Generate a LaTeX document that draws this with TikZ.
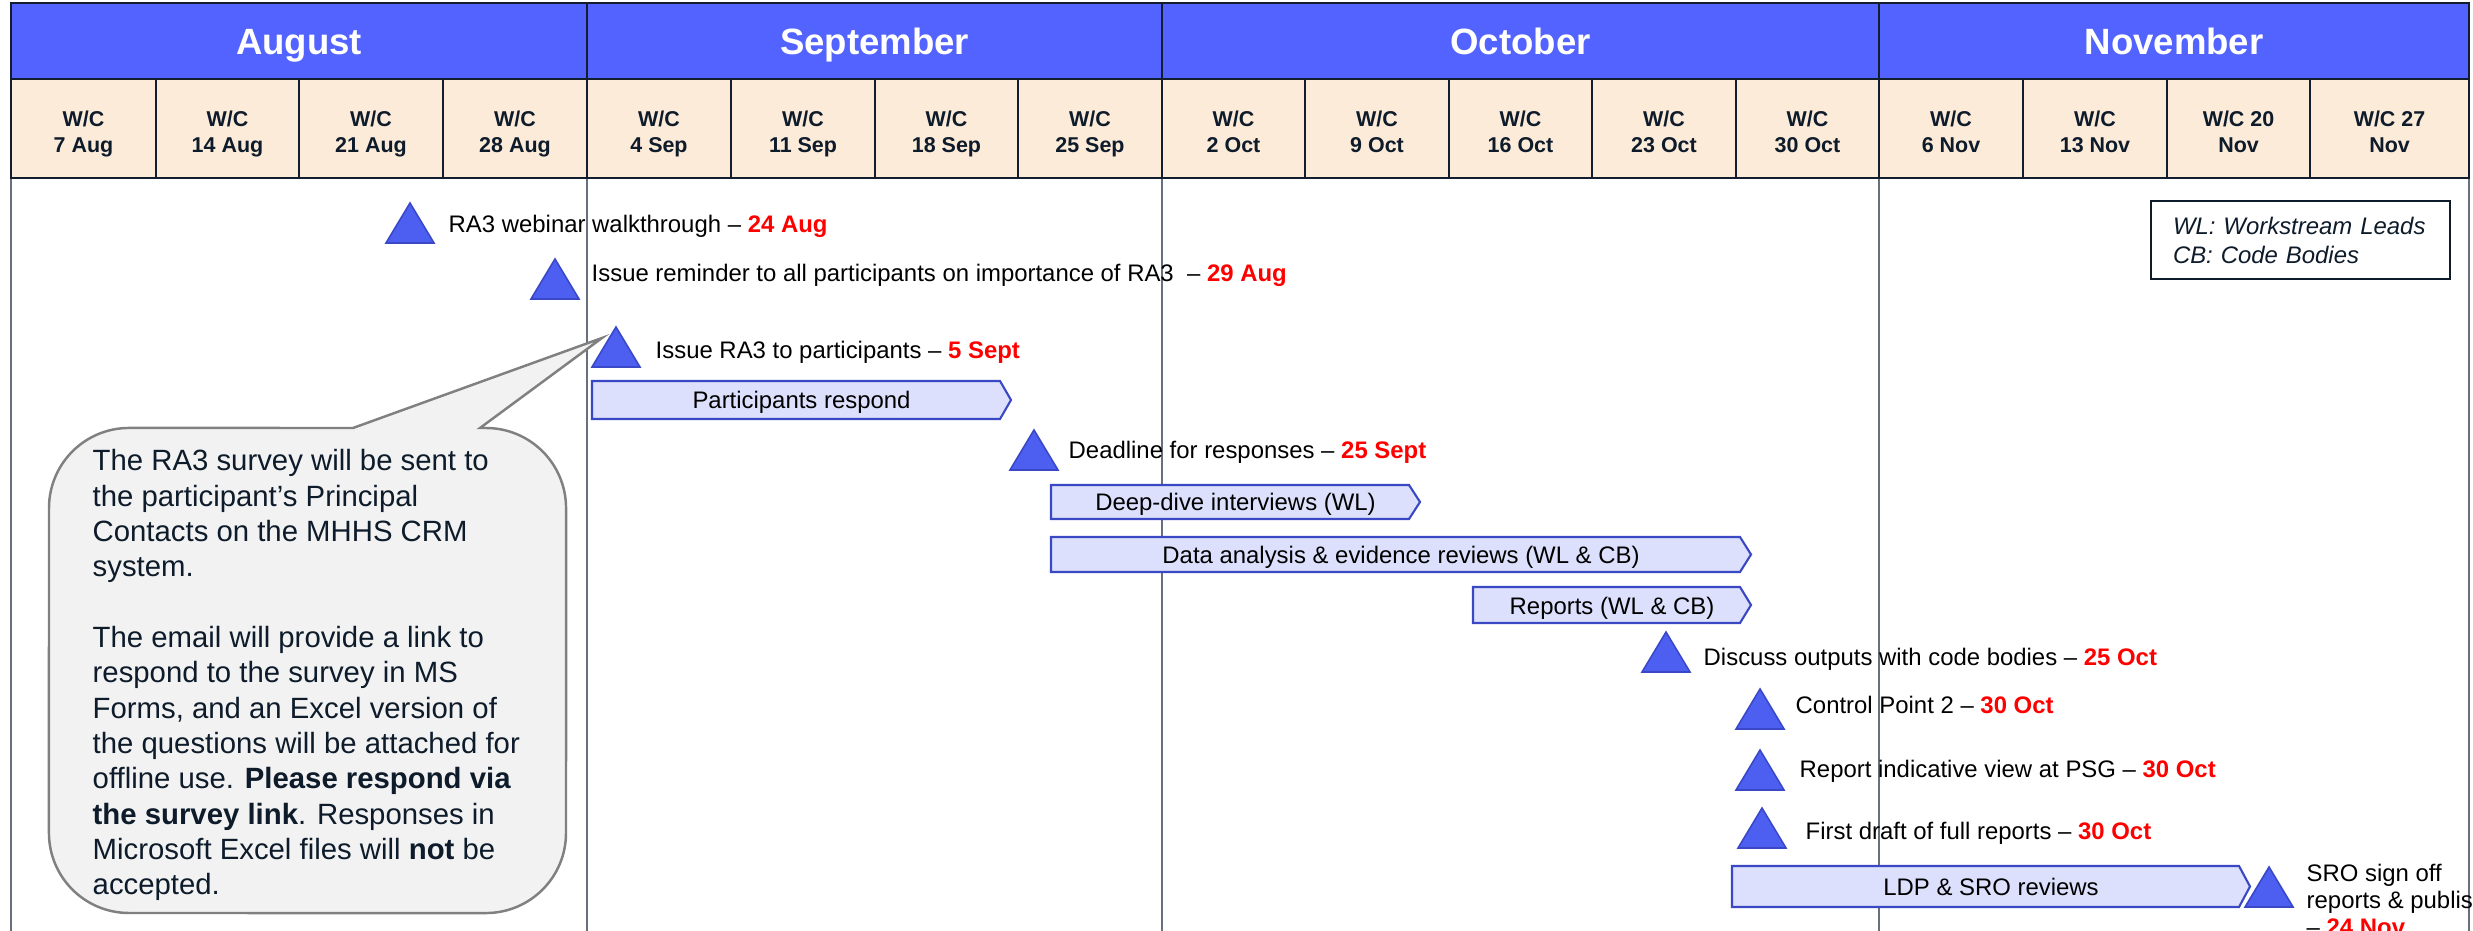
\documentclass[tikz,border=0pt]{standalone}
\usepackage{fontspec}
\setmainfont{Liberation Sans}

\definecolor{monthblue}{RGB}{82,99,255}
\definecolor{weekfill}{RGB}{253,235,218}
\definecolor{gridnavy}{RGB}{18,30,46}
\definecolor{inknavy}{RGB}{13,27,42}
\definecolor{bodyline}{RGB}{105,112,125}
\definecolor{msfill}{RGB}{76,95,240}
\definecolor{msedge}{RGB}{58,72,200}
\definecolor{barfill}{RGB}{220,224,252}
\definecolor{baredge}{RGB}{58,72,196}
\definecolor{calloutfill}{RGB}{242,242,242}
\definecolor{calloutedge}{RGB}{128,128,128}
\definecolor{datered}{RGB}{255,0,0}

% red bold date after an event description
\newcommand\dated[1]{\textcolor{datered}{\bfseries #1}}
% milestone triangle: name, apex x, base y
\newcommand\milestone[3]{%
  \draw[milestone] (#2-24,#3) -- (#2,#3-40) -- (#2+24,#3) -- cycle;
  \coordinate (#1) at (#2,#3);}
% activity bar with pointed right end: name, left, top, right, bottom, label
\newcommand\ganttbar[6]{%
  \draw[barshape] (#2,#3) -- (#4,#3) -- (#4+11,{(#3+#5)/2}) -- (#4,#5) -- (#2,#5) -- cycle;
  \node[tasktext] (#1) at ({(#2+#4+11)/2},{(#3+#5)/2+9}) {#6};}

\begin{document}
\begin{tikzpicture}[x=0.01cm, y=-0.01cm,
  hdrcell/.style={draw=gridnavy, line width=0.75pt},
  monthlabel/.style={text=white, font=\fontsize{10.4}{12}\selectfont\bfseries, inner sep=0pt, anchor=base},
  weeklabel/.style={text=inknavy, font=\fontsize{6.1}{7.4}\selectfont\bfseries, align=center, inner sep=0pt, anchor=north},
  bodyrule/.style={draw=bodyline, line width=0.45pt},
  milestone/.style={fill=msfill, draw=msedge, line width=0.45pt},
  evtext/.style={font=\fontsize{6.8}{8.2}\selectfont, inner sep=0pt, anchor=base west},
  barshape/.style={fill=barfill, draw=baredge, line width=0.6pt},
  tasktext/.style={font=\fontsize{6.8}{8.2}\selectfont, inner sep=0pt, anchor=base},
  callout/.style={fill=calloutfill, draw=calloutedge, line width=0.7pt},
  callouttext/.style={text=inknavy, font=\fontsize{8.34}{10.04}\selectfont, align=left, inner sep=0pt, anchor=north west},
  legendbox/.style={draw=inknavy, line width=0.55pt, text=inknavy, font=\fontsize{6.8}{8.25}\selectfont\itshape,
    align=left, text width=2.55cm, inner xsep=0.22cm, minimum width=2.99cm, minimum height=0.78cm, anchor=north west}]

\useasboundingbox (0,0) rectangle (2473,931);
\clip (0,0) rectangle (2473,931);
\fill[white] (0,0) rectangle (2473,931);

% month separators running down the chart body
\foreach \x in {11,587,1162,1879,2469}
  \draw[bodyrule] (\x,178) -- (\x,931);

% month header row
\foreach \xa/\xb/\nm/\lab in {11/587/aug/August, 587/1162/sep/September,
    1162/1879/oct/October, 1879/2469/nov/November}{
  \draw[hdrcell, fill=monthblue] (\xa,3) rectangle (\xb,79);
  \node[monthlabel] (\nm) at ({(\xa+\xb)/2},55) {\lab};
}

% week-commencing row
\foreach \xa/\xb/\lab [count=\i] in {
    11/156/{W/C\\7 Aug}, 156/299/{W/C\\14 Aug}, 299/443/{W/C\\21 Aug}, 443/587/{W/C\\28 Aug},
    587/731/{W/C\\4 Sep}, 731/875/{W/C\\11 Sep}, 875/1018/{W/C\\18 Sep}, 1018/1162/{W/C\\25 Sep},
    1162/1305/{W/C\\2 Oct}, 1305/1449/{W/C\\9 Oct}, 1449/1592/{W/C\\16 Oct}, 1592/1736/{W/C\\23 Oct},
    1736/1879/{W/C\\30 Oct}, 1879/2023/{W/C\\6 Nov}, 2023/2167/{W/C\\13 Nov}, 2167/2310/{W/C 20\\Nov},
    2310/2469/{W/C 27\\Nov}}{
  \draw[hdrcell, fill=weekfill] (\xa,79) rectangle (\xb,178);
  \node[weeklabel] (w\i) at ({(\xa+\xb)/2},110) {\lab};
}

% legend
\node[legendbox] (legend) at (2150,200) {WL: Workstream Leads\\CB: Code Bodies};

% milestones and their descriptions
\milestone{m1}{410}{243}
\node[evtext] (e1) at (448,233) {RA3 webinar walkthrough – \dated{24 Aug}};
\milestone{m2}{555}{299}
\node[evtext] (e2) at (591,282) {Issue reminder to all participants on importance of RA3~ – \dated{29 Aug}};
\milestone{m3}{616}{367}
\node[evtext] (e3) at (655,359) {Issue RA3 to participants – \dated{5 Sept}};
\milestone{m4}{1034}{470}
\node[evtext] (e4) at (1068,459) {Deadline for responses – \dated{25 Sept}};
\milestone{m5}{1666}{672}
\node[evtext] (e5) at (1703,666) {Discuss outputs with code bodies – \dated{25 Oct}};
\milestone{m6}{1760}{729}
\node[evtext] (e6) at (1795,713) {Control Point 2 – \dated{30 Oct}};
\milestone{m7}{1760}{790}
\node[evtext] (e7) at (1799,777) {Report indicative view at PSG – \dated{30 Oct}};
\milestone{m8}{1762}{848}
\node[evtext] (e8) at (1805,839) {First draft of full reports – \dated{30 Oct}};
\milestone{m9}{2269}{907}
\node[evtext, anchor=north west, align=left, font=\fontsize{6.8}{7.7}\selectfont] (e9) at (2306,863)
  {SRO sign off\\reports \& publish\\– \dated{24 Nov}};

% activity bars
\ganttbar{b1}{592}{381}{1000}{419}{Participants respond}
\ganttbar{b2}{1051}{485}{1409}{519}{Deep-dive interviews (WL)}
\ganttbar{b3}{1051}{537}{1740}{572}{Data analysis \& evidence reviews (WL \& CB)}
\ganttbar{b4}{1473}{587}{1740}{623}{Reports (WL \& CB)}
\ganttbar{b5}{1732}{866}{2239}{907}{LDP \& SRO reviews}

% speech bubble pointing at the survey issue milestone
\draw[callout] (480,428) -- (486,428) arc[start angle=90, end angle=0, radius=0.8cm]
  -- (566,833) arc[start angle=0, end angle=-90, radius=0.8cm]
  -- (129,913) arc[start angle=-90, end angle=-180, radius=0.8cm]
  -- (49,508) arc[start angle=180, end angle=90, radius=0.8cm]
  -- (353,428) -- (602,338) -- cycle;
\node[callouttext] (note) at (92,449)
  {The RA3 survey will be sent to\\
   the participant’s Principal\\
   Contacts on the MHHS CRM\\
   system.\\[10.04pt]
   The email will provide a link to\\
   respond to the survey in MS\\
   Forms, and an Excel version of\\
   the questions will be attached for\\
   offline use. \textbf{Please respond via}\\
   \textbf{the survey link}. Responses in\\
   Microsoft Excel files will \textbf{not} be\\
   accepted.};
\end{tikzpicture}
\end{document}
